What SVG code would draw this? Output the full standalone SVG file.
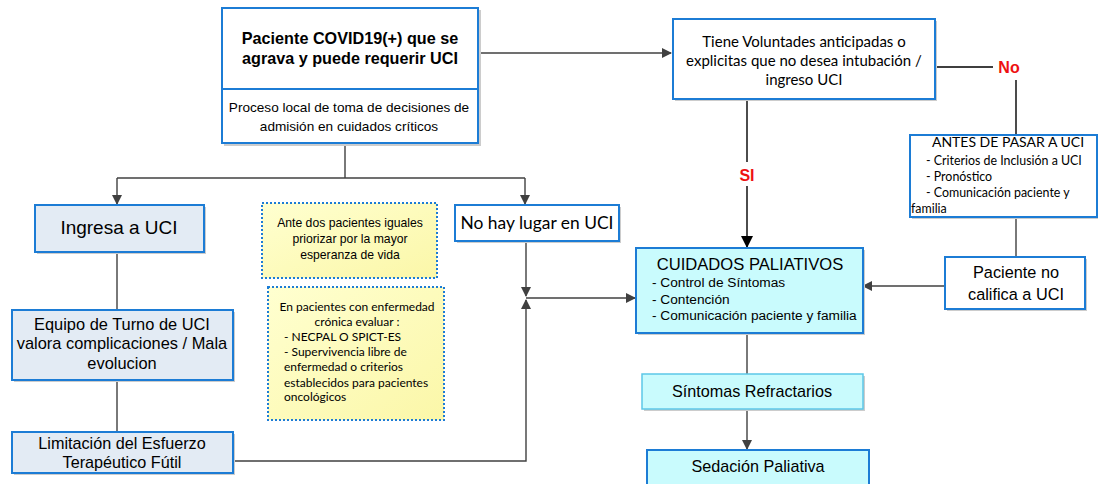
<svg xmlns="http://www.w3.org/2000/svg" width="1098" height="484" viewBox="0 0 1098 484">
<defs>
<marker id="ah" markerWidth="10" markerHeight="10" refX="9" refY="5" orient="auto" markerUnits="userSpaceOnUse">
<path d="M0,0 L10,5 L0,10 Z" fill="#404040"/>
</marker>
<marker id="ahb" markerWidth="12" markerHeight="12" refX="11" refY="6" orient="auto" markerUnits="userSpaceOnUse">
<path d="M0,0 L12,6 L0,12 Z" fill="#000"/>
</marker>
<linearGradient id="yel" x1="0" y1="0" x2="1" y2="1">
<stop offset="0" stop-color="#ffffd0"/>
<stop offset="1" stop-color="#fbf7a8"/>
</linearGradient>
</defs>
<style>
.box{stroke:#1c7cd5;stroke-width:2}
.wb{fill:#ffffff}
.gb{fill:#e3ebf4}
.cb{fill:#c9fbfd}
.sh{fill:#cccccc}
.note{fill:url(#yel);stroke:#1c7cd5;stroke-width:2;stroke-dasharray:2,2}
.ln{fill:none;stroke:#404040;stroke-width:1.4}
.t{font-family:"Liberation Sans",Arial,sans-serif;fill:#000}
.c{font-family:Lato,"Open Sans",sans-serif;fill:#000}
.red{font-family:"Liberation Sans",Arial,sans-serif;fill:#ee1111;font-weight:bold;font-size:16px}
</style>
<rect width="1098" height="484" fill="#ffffff"/>

<g id="connectors">
<path class="ln" d="M478,53 H671" marker-end="url(#ah)"/>
<path class="ln" d="M345,143 V178"/>
<path class="ln" d="M117,178 H525"/>
<path class="ln" d="M117,178 V204" marker-end="url(#ah)"/>
<path class="ln" d="M525,178 V204" marker-end="url(#ah)"/>
<path class="ln" d="M117,252 V310"/>
<path class="ln" d="M117,380 V432"/>
<path class="ln" d="M233,461 H526 V300" marker-end="url(#ah)"/>
<path class="ln" d="M526,241 V296" marker-end="url(#ah)"/>
<path class="ln" d="M526,298 H635" marker-end="url(#ah)"/>
<path d="M747,99 V162" fill="none" stroke="#000" stroke-width="1.4"/>
<path d="M747,186 V247" fill="none" stroke="#000" stroke-width="1.4" marker-end="url(#ahb)"/>
<path d="M935,67 H993 M1016,80 V135" fill="none" stroke="#000" stroke-width="1.4"/>
<path class="ln" d="M1016,217 V257"/>
<path class="ln" d="M945,286 H863" marker-end="url(#ah)"/>
<path class="ln" d="M747,333 V374"/>
<path class="ln" d="M747,409 V449" marker-end="url(#ah)"/>
<text class="red" x="747" y="181" text-anchor="middle">SI</text>
<text class="red" x="1009" y="73" text-anchor="middle">No</text>
</g>

<g id="n-paciente">
<rect class="sh" x="224" y="10" width="257" height="136"/>
<rect class="box wb" x="222" y="8" width="256" height="135"/>
<line class="box" x1="222" y1="89" x2="478" y2="89"/>
<text class="t" font-size="16.2" font-weight="bold" text-anchor="middle"><tspan x="350" y="44">Paciente COVID19(+) que se</tspan><tspan x="350" y="64">agrava y puede requerir UCI</tspan></text>
<text class="t" font-size="13.6" text-anchor="middle"><tspan x="349" y="112">Proceso local de toma de decisiones de</tspan><tspan x="349" y="131">admisión en cuidados críticos</tspan></text>
</g>

<g id="n-voluntades">
<rect class="sh" x="675" y="21" width="262" height="80"/>
<rect class="box wb" x="673" y="19" width="262" height="80"/>
<text class="c" font-size="15" text-anchor="middle"><tspan x="804" y="47">Tiene Voluntades anticipadas o</tspan><tspan x="804" y="66">explicitas que no desea intubación /</tspan><tspan x="804" y="85">ingreso UCI</tspan></text>
</g>

<g id="n-antes">
<rect class="sh" x="912" y="137" width="186" height="82"/>
<rect class="box wb" x="910" y="135" width="187" height="82"/>
<text class="c" font-size="14" text-anchor="middle" x="1008" y="147">ANTES DE PASAR A UCI</text>
<text class="c" font-size="12.4"><tspan x="926" y="165">- Criterios de Inclusión a UCI</tspan><tspan x="926" y="181">- Pronóstico</tspan><tspan x="926" y="197">- Comunicación paciente y</tspan><tspan x="911" y="213">familia</tspan></text>
</g>

<g id="n-nocalifica">
<rect class="sh" x="947" y="259" width="140" height="52"/>
<rect class="box wb" x="945" y="257" width="140" height="52"/>
<text class="t" font-size="16.3" text-anchor="middle"><tspan x="1016" y="278">Paciente no</tspan><tspan x="1016" y="300">califica a UCI</tspan></text>
</g>

<g id="n-cuidados">
<rect class="sh" x="638" y="250" width="227" height="85"/>
<rect class="box cb" x="636" y="248" width="227" height="85"/>
<text class="t" font-size="16.6" text-anchor="middle" x="750" y="270">CUIDADOS PALIATIVOS</text>
<text class="t" font-size="13.7"><tspan x="652" y="287">- Control de Síntomas</tspan><tspan x="652" y="304">- Contención</tspan><tspan x="652" y="320">- Comunicación paciente y familia</tspan></text>
</g>

<g id="n-refractarios">
<rect class="sh" x="644" y="376" width="221" height="35"/>
<rect x="642" y="374" width="221" height="35" fill="#c9fbfd" stroke="#5cc7e8" stroke-width="1.5"/>
<text class="t" font-size="16.2" text-anchor="middle" x="752" y="397">Síntomas Refractarios</text>
</g>

<g id="n-sedacion">
<rect class="box cb" x="647" y="450" width="222" height="40"/>
<text class="t" font-size="16.2" text-anchor="middle" x="758" y="472">Sedación Paliativa</text>
</g>

<g id="n-ingresa">
<rect class="sh" x="37" y="207" width="169" height="47"/>
<rect class="box gb" x="35" y="205" width="169" height="47"/>
<text class="t" font-size="19" text-anchor="middle" x="119" y="234">Ingresa a UCI</text>
</g>

<g id="n-equipo">
<rect class="sh" x="14" y="312" width="221" height="70"/>
<rect class="box gb" x="12" y="310" width="221" height="70"/>
<text class="t" font-size="16.4" text-anchor="middle"><tspan x="122" y="330">Equipo de Turno de UCI</tspan><tspan x="122" y="349">valora complicaciones / Mala</tspan><tspan x="122" y="369">evolucion</tspan></text>
</g>

<g id="n-limitacion">
<rect class="sh" x="14" y="434" width="221" height="41"/>
<rect class="box gb" x="12" y="432" width="221" height="41"/>
<text class="t" font-size="16.2" text-anchor="middle"><tspan x="122" y="449">Limitación del Esfuerzo</tspan><tspan x="122" y="468">Terapéutico Fútil</tspan></text>
</g>

<g id="n-nohay">
<rect class="sh" x="457" y="207" width="164" height="36"/>
<rect class="box wb" x="455" y="205" width="164" height="36"/>
<text class="c" font-size="17.4" text-anchor="middle" x="537" y="229">No hay lugar en UCI</text>
</g>

<g id="n-nota1">
<rect class="note" x="262" y="203" width="175" height="75"/>
<text class="t" font-size="12.2" text-anchor="middle" fill="#222"><tspan x="350" y="227">Ante dos pacientes iguales</tspan><tspan x="350" y="243">priorizar por la mayor</tspan><tspan x="350" y="259">esperanza de vida</tspan></text>
</g>

<g id="n-nota2">
<rect class="note" x="268" y="287" width="176" height="133"/>
<text class="c" font-size="12" text-anchor="middle"><tspan x="357" y="311">En pacientes con enfermedad</tspan><tspan x="357" y="326">crónica evaluar :</tspan></text>
<text class="c" font-size="12"><tspan x="284" y="341">-  NECPAL O SPICT-ES</tspan><tspan x="284" y="356">-  Supervivencia libre de</tspan><tspan x="284" y="371">enfermedad o criterios</tspan><tspan x="284" y="387">establecidos para pacientes</tspan><tspan x="284" y="401">oncológicos</tspan></text>
</g>
</svg>
